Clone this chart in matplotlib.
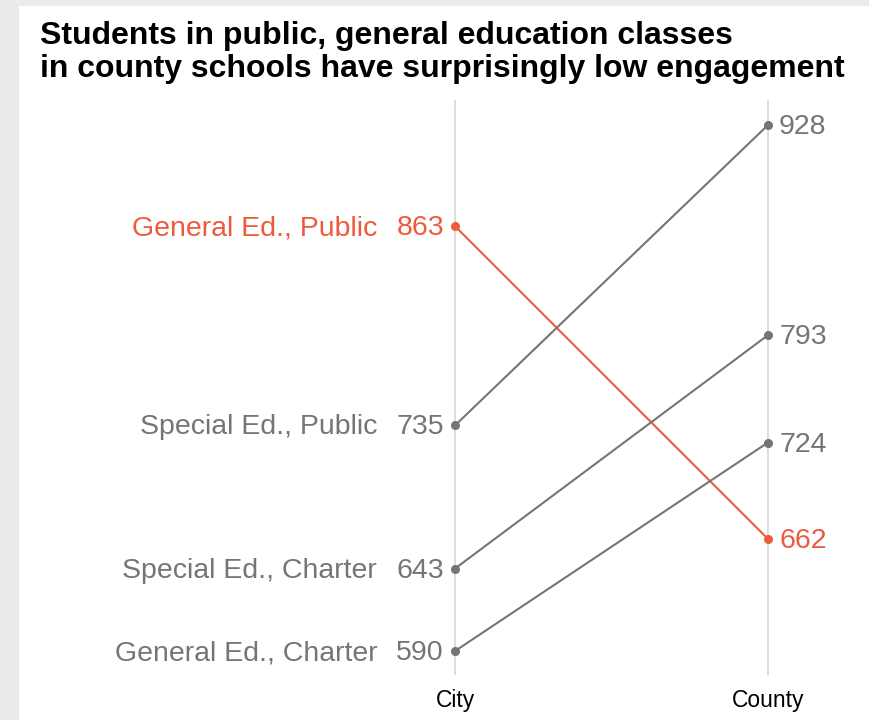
import matplotlib
matplotlib.use('Agg')
from matplotlib import pyplot as plt
from matplotlib.patches import Rectangle

# Data
groups = ['General Ed., Public', 'Special Ed., Public',
          'Special Ed., Charter', 'General Ed., Charter']
city = [863, 735, 643, 590]
county = [662, 928, 793, 724]
highlight = 'General Ed., Public'
x_labels = ['City', 'County']

GRAY = '#757575'
RED = '#ef5a3c'
FONT = ['Liberation Sans', 'DejaVu Sans']

plt.rcParams['font.family'] = FONT

fig = plt.figure(figsize=(8.7, 7.2), dpi=100, facecolor='#ebebeb')
fig.patches.append(Rectangle((19 / 870, 0), 1, 1 - 6 / 720,
                             transform=fig.transFigure,
                             facecolor='white', edgecolor='none', zorder=-10))

ax = fig.add_axes([440 / 870, 45 / 720, 343 / 870, 575 / 720])
ax.set_facecolor('none')
ax.set_xlim(-0.048, 1.048)
ax.set_ylim(574.6, 944.1)

for x in [0, 1]:
    ax.axvline(x, color='#d9d9d9', lw=1.3, zorder=1)

for name, c, k in zip(groups, city, county):
    col = RED if name == highlight else GRAY
    ax.plot([0, 1], [c, k], color=col, lw=1.5, zorder=3)
    ax.scatter([0, 1], [c, k], color=col, s=30, zorder=4)
    ax.annotate(str(c), (0, c), xytext=(-8, -1.5), textcoords='offset points',
                ha='right', va='center', fontsize=20.5, color=col)
    ax.annotate(name, (0, c), xytext=(-56, -1.5), textcoords='offset points',
                ha='right', va='center', fontsize=20.5, color=col)
    ax.annotate(str(k), (1, k), xytext=(8, -1.5), textcoords='offset points',
                ha='left', va='center', fontsize=20.5, color=col)

ax.set_xticks([0, 1], x_labels)
ax.tick_params(axis='x', length=0, pad=10, labelsize=16.5, colors='black')
ax.set_yticks([])
for s in ax.spines.values():
    s.set_visible(False)

fig.text(40 / 870, 1 - 21 / 720,
         'Students in public, general education classes\n'
         'in county schools have surprisingly low engagement',
         ha='left', va='top', fontsize=23, fontweight='bold',
         color='black', linespacing=1.12)

fig.savefig('out.png', dpi=100, facecolor=fig.get_facecolor())
